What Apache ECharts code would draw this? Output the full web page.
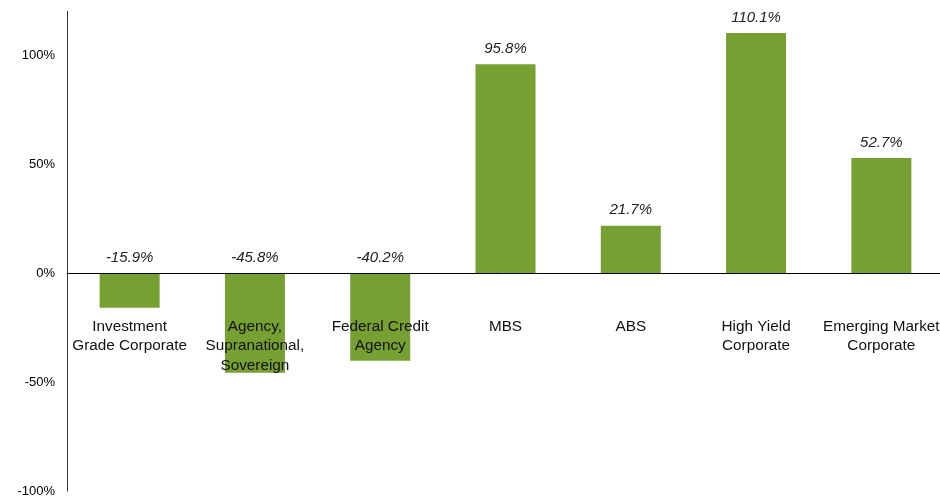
<!DOCTYPE html>
<html><head><meta charset="utf-8">
<script src="https://cdn.jsdelivr.net/npm/echarts@6/dist/echarts.min.js"></script>
<style>html,body{margin:0;padding:0;background:#fff}#c{width:940px;height:497px}</style>
</head><body><div id="c"></div>
<script>
var categories = ["Investment\nGrade Corporate", "Agency,\nSupranational,\nSovereign", "Federal Credit\nAgency", "MBS", "ABS", "High Yield\nCorporate", "Emerging Market\nCorporate"];
var values = [-15.9, -45.8, -40.2, 95.8, 21.7, 110.1, 52.7];
var yTicks = [-100, -50, 0, 50, 100];

var chart = echarts.init(document.getElementById('c'), null, {renderer: 'canvas'});
chart.setOption({
  animation: false,
  textStyle: {fontFamily: 'Liberation Sans, Arial, sans-serif'},
  grid: {left: 67, top: 11.4, width: 877, height: 479.6, containLabel: false, outerBoundsMode: 'none'},
  xAxis: {
    type: 'category', data: categories, z: 10,
    axisLine: {onZero: true, lineStyle: {color: '#000', width: 1}},
    axisTick: {show: false},
    axisLabel: {interval: 0, margin: -174, fontSize: 15.3, lineHeight: 19.5, color: '#111', verticalAlign: 'top'}
  },
  yAxis: {
    type: 'value', min: -100, max: 120, interval: 50,
    splitLine: {show: false},
    axisTick: {show: false},
    axisLine: {show: true, onZero: false, lineStyle: {color: '#333', width: 1}},
    axisLabel: {
      margin: 12, fontSize: 13, color: '#000',
      showMaxLabel: false,
      formatter: function (v) { return yTicks.indexOf(v) >= 0 ? v + '%' : ''; }
    }
  },
  series: [{
    type: 'bar', data: values, barWidth: 60,
    itemStyle: {color: '#77a033'},
    label: {
      show: true, position: 'top', distance: 8,
      fontSize: 15, fontStyle: 'italic', color: '#222',
      formatter: function (p) { return p.value.toFixed(1) + '%'; }
    }
  }]
});
</script></body></html>
